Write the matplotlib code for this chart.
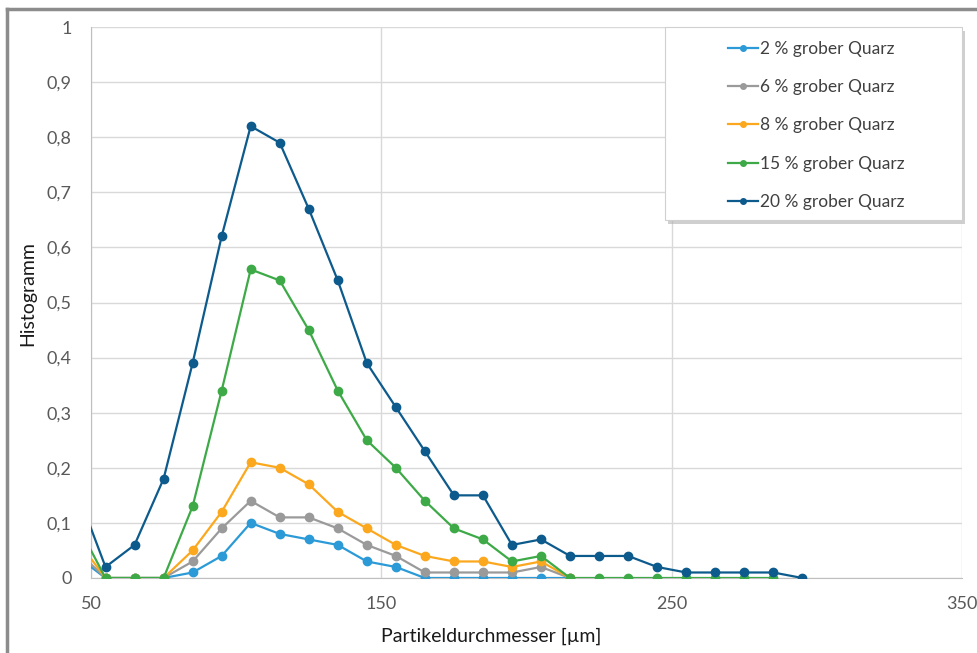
import matplotlib
matplotlib.use('Agg')
import matplotlib.pyplot as plt
from matplotlib.patches import Rectangle
from matplotlib.lines import Line2D
import numpy as np

plt.rcParams['font.family'] = ['Lato', 'DejaVu Sans']

# particle diameter classes [µm]
x_all = np.arange(45, 300, 10)

# histogram values per series
q20 = [0.16, 0.02, 0.06, 0.18, 0.39, 0.62, 0.82, 0.79, 0.67, 0.54, 0.39, 0.31, 0.23,
       0.15, 0.15, 0.06, 0.07, 0.04, 0.04, 0.04, 0.02, 0.01, 0.01, 0.01, 0.01, 0.0]
q15 = [0.10, 0.0, 0.0, 0.0, 0.13, 0.34, 0.56, 0.54, 0.45, 0.34, 0.25, 0.20, 0.14,
       0.09, 0.07, 0.03, 0.04, 0.0, 0.0, 0.0, 0.0, 0.0, 0.0, 0.0, 0.0]
q8 = [0.07, 0.0, 0.0, 0.0, 0.05, 0.12, 0.21, 0.20, 0.17, 0.12, 0.09, 0.06, 0.04,
      0.03, 0.03, 0.02, 0.03, 0.0]
q6 = [0.05, 0.0, 0.0, 0.0, 0.03, 0.09, 0.14, 0.11, 0.11, 0.09, 0.06, 0.04, 0.01,
      0.01, 0.01, 0.01, 0.02, 0.0]
q2 = [0.04, 0.0, 0.0, 0.0, 0.01, 0.04, 0.10, 0.08, 0.07, 0.06, 0.03, 0.02, 0.0,
      0.0, 0.0, 0.0, 0.0, 0.0]

labels = ['2 % grober Quarz', '6 % grober Quarz', '8 % grober Quarz',
          '15 % grober Quarz', '20 % grober Quarz']
colors = ['#2b9ad6', '#9a9a9a', '#fba81e', '#3daa47', '#0d5a8c']
series = [q2, q6, q8, q15, q20]

yticks = np.arange(0, 1.01, 0.1)
ytick_labels = ['0'] + ['0,%d' % i for i in range(1, 10)] + ['1']
xticks = [50, 150, 250, 350]

fig = plt.figure(figsize=(9.78, 6.53), dpi=100)
ax = fig.add_axes([91/978, 1-578/653, 871/978, 551/653])

# grey frame around the chart
fig.add_artist(Line2D([7/978, 1], [1-9/653, 1-9/653], color='#8c8c8c', lw=2.5,
                      transform=fig.transFigure))
fig.add_artist(Line2D([7/978, 7/978], [0, 1-9/653], color='#8c8c8c', lw=2.5,
                      transform=fig.transFigure))

for vals, lab, col in zip(series, labels, colors):
    ax.plot(x_all[:len(vals)], vals, color=col, lw=1.6, marker='o', ms=6,
            label=lab, zorder=3)

ax.set_xlim(50, 350)
ax.set_ylim(0, 1)
ax.set_xticks(xticks)
ax.set_yticks(yticks)
ax.set_yticklabels(ytick_labels)
ax.tick_params(length=0, labelsize=13, colors='#595959', pad=14)
ax.tick_params(axis='x', pad=13)
ax.grid(True, color='#d9d9d9', lw=1)
ax.set_axisbelow(True)
for s in ['top', 'right']:
    ax.spines[s].set_visible(False)
for s in ['left', 'bottom']:
    ax.spines[s].set_color('#bfbfbf')

ax.set_xlabel('Partikeldurchmesser [µm]', fontsize=14, color='#1a1a1a', labelpad=9)
ax.xaxis.set_label_coords((491-91)/871, -0.09)
ax.set_ylabel('Histogramm', fontsize=14, color='#1a1a1a', labelpad=10)
ax.yaxis.set_label_coords(-0.063, (578-294)/551)

# legend box with shadow
lx0 = (665-91)/871
ly0 = (578-220)/551
ax.add_patch(Rectangle((lx0+0.004, ly0-0.007), 1-lx0, 1-ly0, transform=ax.transAxes,
                       facecolor='#b0b0b0', edgecolor='none', alpha=0.6, zorder=4,
                       clip_on=False))
ax.add_patch(Rectangle((lx0, ly0), 1-lx0, 1-ly0, transform=ax.transAxes,
                       facecolor='white', edgecolor='#d0d0d0', lw=0.8, zorder=5,
                       clip_on=False))
handles = [Line2D([], [], color=c, lw=1.6, marker='o', ms=4) for c in colors]
leg = ax.legend(handles, labels, loc='upper left',
                bbox_to_anchor=((711-91)/871, 1.006), frameon=False,
                fontsize=12.5, handlelength=1.7, handletextpad=0.1,
                labelspacing=1.28, borderpad=0.5)
leg.set_zorder(6)
for t in leg.get_texts():
    t.set_color('#404040')

fig.savefig('out.png', dpi=100)
